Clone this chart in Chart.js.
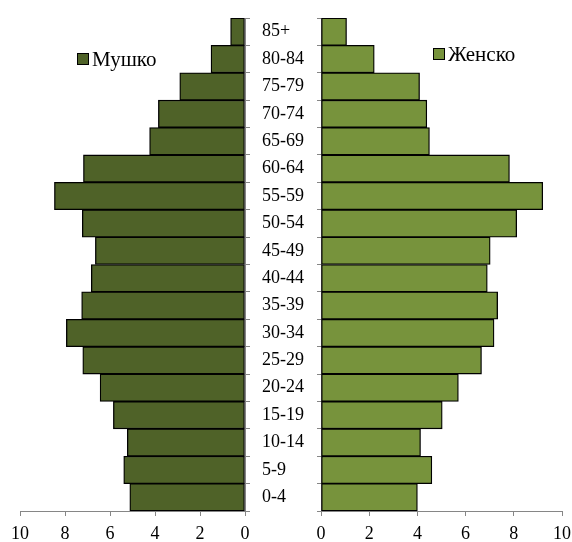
<!DOCTYPE html>
<html>
<head>
<meta charset="utf-8">
<script src="https://cdn.jsdelivr.net/npm/chart.js"></script>
<style>
  body { margin: 0; background: #fff; width: 572px; height: 542px; position: relative; overflow: hidden; font-family: "Liberation Serif", serif; }
  .box { position: absolute; top: 0; height: 542px; }
  #leftBox { left: 0; width: 305px; }
  #rightBox { left: 300px; width: 272px; }
  .legend { position: absolute; font-size: 21px; line-height: 24px; color: #000; display: flex; align-items: center; white-space: nowrap; }
  .legend i { display: inline-block; width: 10px; height: 10px; border: 1px solid #000; margin-right: 3px; }
</style>
</head>
<body>
<div class="box" id="leftBox"><canvas id="maleChart"></canvas></div>
<div class="box" id="rightBox"><canvas id="femaleChart"></canvas></div>
<div class="legend" id="maleLegend" style="left:77px;top:47px;"></div>
<div class="legend" id="femaleLegend" style="left:433px;top:42px;"></div>
<script>
// age groups, bottom to top
const ageGroups = ["0-4", "5-9", "10-14", "15-19", "20-24", "25-29", "30-34", "35-39", "40-44",
  "45-49", "50-54", "55-59", "60-64", "65-69", "70-74", "75-79", "80-84", "85+"];
const maleValues = [5.12, 5.39, 5.23, 5.85, 6.44, 7.21, 7.94, 7.26, 6.83,
  6.65, 7.23, 8.47, 7.18, 4.24, 3.85, 2.9, 1.51, 0.64];
const femaleValues = [4.0, 4.6, 4.13, 5.03, 5.7, 6.66, 7.18, 7.33, 6.9,
  7.02, 8.12, 9.2, 7.82, 4.5, 4.39, 4.09, 2.21, 1.06];
const xTicks = [0, 2, 4, 6, 8, 10];
const seriesNames = ["Мушко", "Женско"];
const maleColor = "#4f6228";
const femaleColor = "#77933c";
const axisColor = "#868686";

Chart.defaults.font.family = "'Liberation Serif', serif";
Chart.defaults.font.size = 18;
Chart.defaults.color = "#000";

// simple html legends
function makeLegend(id, name, color) {
  const el = document.getElementById(id);
  el.innerHTML = `<i style="background:${color}"></i><span>${name}</span>`;
}
makeLegend("maleLegend", seriesNames[0], maleColor);
makeLegend("femaleLegend", seriesNames[1], femaleColor);

function xScale(reverse) {
  return {
    type: "linear",
    min: xTicks[0],
    max: xTicks[xTicks.length - 1],
    reverse: reverse,
    afterBuildTicks: s => { s.ticks = xTicks.map(v => ({ value: v })); },
    grid: { drawOnChartArea: false, drawTicks: true, tickLength: 5, color: axisColor },
    border: { display: true, color: axisColor, width: 1 },
    ticks: { padding: 7, maxRotation: 0 },
    // chart area is set by layout padding, not by label overflow
    afterFit: s => { s.height = 31; s.paddingLeft = 0; s.paddingRight = 0; }
  };
}

function barDataset(name, values, color) {
  return {
    label: name,
    data: values,
    backgroundColor: color,
    borderColor: "#000",
    borderWidth: 1.3,
    borderSkipped: false,
    barPercentage: 1,
    categoryPercentage: 1
  };
}

const common = {
  indexAxis: "y",
  responsive: true,
  maintainAspectRatio: false,
  animation: false,
  plugins: { legend: { display: false }, tooltip: { enabled: false } }
};

// left side: males, axis reversed, age labels on the right
new Chart(document.getElementById("maleChart"), {
  type: "bar",
  data: { labels: ageGroups, datasets: [barDataset(seriesNames[0], maleValues, maleColor)] },
  options: {
    ...common,
    layout: { padding: { left: 20, top: 18, right: 0, bottom: 0 } },
    scales: {
      x: xScale(true),
      y: {
        position: "right",
        reverse: true,
        grid: { drawOnChartArea: false, drawTicks: true, tickLength: 5, color: axisColor, offset: true },
        border: { display: true, color: axisColor, width: 1 },
        ticks: { padding: 12, autoSkip: false },
        afterFit: s => { s.width = 60; s.paddingTop = 0; s.paddingBottom = 0; }
      }
    }
  }
});

// right side: females
new Chart(document.getElementById("femaleChart"), {
  type: "bar",
  data: { labels: ageGroups, datasets: [barDataset(seriesNames[1], femaleValues, femaleColor)] },
  options: {
    ...common,
    layout: { padding: { left: 0, top: 18, right: 10, bottom: 0 } },
    scales: {
      x: xScale(false),
      y: {
        position: "left",
        reverse: true,
        grid: { drawOnChartArea: false, drawTicks: true, tickLength: 4, color: axisColor, offset: true },
        border: { display: true, color: axisColor, width: 1 },
        ticks: { display: false },
        afterFit: s => { s.width = 21; }
      }
    }
  }
});
</script>
</body>
</html>
